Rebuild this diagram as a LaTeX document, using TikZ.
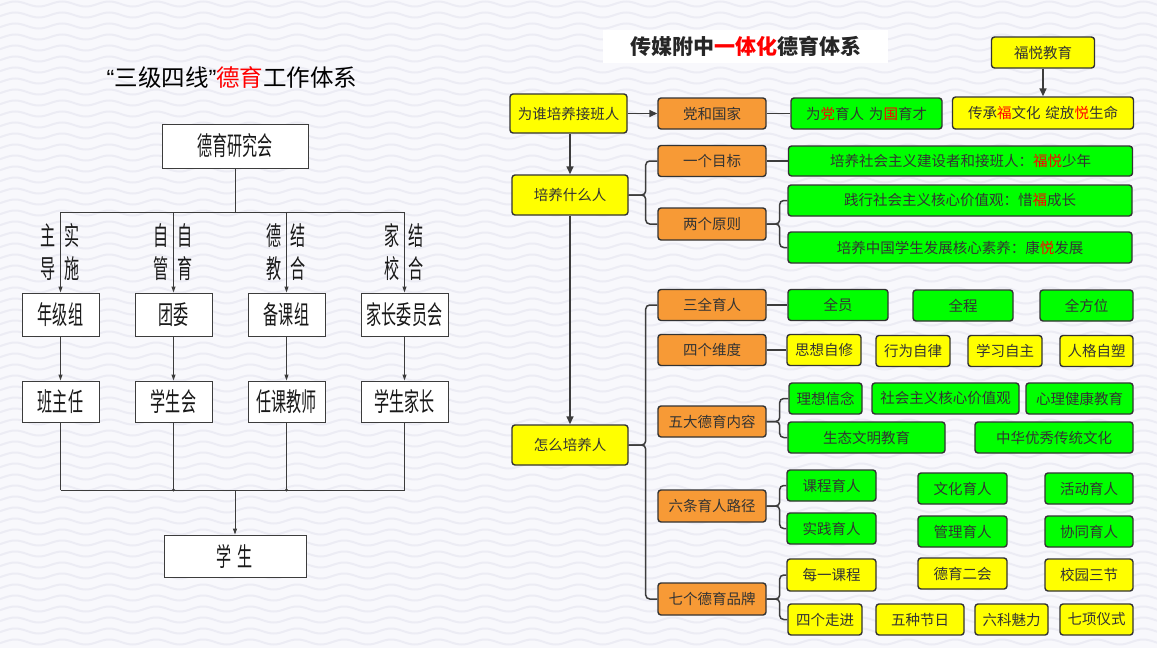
\documentclass[tikz,border=0pt]{standalone}
\usepackage{fontspec}
\usetikzlibrary{arrows.meta}
\newfontfamily\cjk{Noto Sans CJK SC}
\newfontfamily\narrowcjk[FakeStretch=0.58]{Noto Sans CJK SC}
\newfontfamily\quotefont{Liberation Sans}
\definecolor{bg}{HTML}{F8F8FC}
\definecolor{wavec}{HTML}{ECECF4}
\definecolor{ye}{HTML}{FFFF00}
\definecolor{og}{HTML}{F79A36}
\definecolor{gr}{HTML}{00FF00}
\definecolor{bd}{HTML}{333333}
\definecolor{ln}{HTML}{3C3C3C}
\newcommand{\hl}[1]{\textcolor{red}{#1}}

\begin{document}
\begin{tikzpicture}[x=1pt,y=-1pt,
  box/.style={draw=ln,fill=white,line width=1pt,inner sep=0pt,minimum height=42pt,text=black!90,
    font=\narrowcjk\fontsize{26}{26}\selectfont},
  lab/.style={inner sep=0pt,text=black!90,font=\narrowcjk\fontsize{26}{26}\selectfont},
  lline/.style={draw=ln,line width=1pt},
  larrow/.style={lline,-{Triangle[length=6pt,width=4pt]}},
  rbox/.style={draw=bd,line width=1.4pt,rounded corners=3pt,inner sep=0pt,minimum height=31pt,text=bd,
    font=\cjk\fontsize{14.5}{14.5}\selectfont},
  yb/.style={rbox,fill=ye},
  ob/.style={rbox,fill=og,minimum width=108pt},
  gb/.style={rbox,fill=gr},
  rline/.style={draw=ln,line width=1.5pt},
  rarrow/.style={rline,-{Triangle[length=8pt,width=7pt]}},
  brace/.style={rline,rounded corners=4pt}]
\useasboundingbox (0,0) rectangle (1157,648);
\fill[bg] (0,0) rectangle (1157,648);
\begin{scope}
\clip (0,0) rectangle (1157,648);
\foreach \y in {4,15,...,648}
  \draw[wavec,line width=2pt] (-20,\y) \foreach \i in {1,...,26}
    { sin ++(11.75,2.5) cos ++(11.75,-2.5) sin ++(11.75,-2.5) cos ++(11.75,2.5) };
\end{scope}

% left part
\node[inner sep=0pt,font=\cjk\fontsize{23.5}{23.5}\selectfont] (lt) at (232,78)
  {{\quotefont“}三级四线{\quotefont”}\hl{德育}工作体系};
\node[box,minimum width=146pt,minimum height=44pt] (yjh) at (235,146) {德育研究会};
\node[box,minimum width=77pt,minimum height=43pt] (njz) at (60.5,314.5) {年级组};
\node[box,minimum width=77pt,minimum height=43pt] (tw) at (173.5,314.5) {团委};
\node[box,minimum width=77pt,minimum height=43pt] (bkz) at (286.5,314.5) {备课组};
\node[box,minimum width=87pt,minimum height=43pt] (jwh) at (404.5,314.5) {家长委员会};
\node[box,minimum width=77pt,minimum height=41pt] (bzr) at (60.5,401.5) {班主任};
\node[box,minimum width=77pt,minimum height=41pt] (xsh) at (173.5,401.5) {学生会};
\node[box,minimum width=77pt,minimum height=41pt] (rkjs) at (286.5,401.5) {任课教师};
\node[box,minimum width=87pt,minimum height=41pt] (xsjz) at (404.5,401.5) {学生家长};
\node[box,minimum width=142pt] (xs) at (235,556) {学\hspace{6pt}生};

\coordinate (top) at (235,212);
\coordinate (bot) at (235,490);
\draw[lline] (yjh.south) -- (top);
\draw[lline] (njz.north |- top) -- (jwh.north |- top);
\draw[lline] (bzr.south |- bot) -- (xsjz.south |- bot);
\foreach \a/\b/\p/\q/\s/\t in {njz/bzr/主/导/实/施, tw/xsh/自/管/自/育, bkz/rkjs/德/教/结/合, jwh/xsjz/家/校/结/合}{
  \draw[larrow] (\a.north |- top) -- (\a.north);
  \draw[larrow] (\a) -- (\b);
  \draw[lline] (\b.south) -- (\b.south |- bot);
  \path (\a.north) ++(-12,-57) node[lab] (\a-p) {\p} ++(0,33.5) node[lab] (\a-q) {\q};
  \path (\a.north) ++(11.5,-57) node[lab] (\a-s) {\s} ++(0,33.5) node[lab] (\a-t) {\t};
}
\fill[ln] (xsh.south |- bot) circle (1.7pt) (rkjs.south |- bot) circle (1.7pt);
\draw[larrow] (bot) -- (xs.north);

% right part
\node[fill=white,inner sep=0pt,minimum width=285pt,minimum height=33pt,text=black!85,
  font=\cjk\bfseries\fontsize{21}{21}\selectfont] (rt) at (745.5,46.5) {传媒附中\hl{一体化}德育体系};
\node[yb,minimum width=117pt,minimum height=39pt] (wz) at (568.5,113.5) {为谁培养接班人};
\node[ob] (dhgj) at (712,113.5) {党和国家};
\node[gb,minimum width=151pt] (wdyr) at (866.5,113.5) {为\hl{党}育人\hspace{5pt}为\hl{国}育才};
\node[yb,minimum width=103pt] (fyjy) at (1043,52.5) {福悦教育};
\node[yb,minimum width=181pt,minimum height=32pt] (ccfw) at (1043,113) {传承\hl{福}文化\hspace{5pt}绽放\hl{悦}生命};

\node[yb,minimum width=116pt,minimum height=40pt] (pysmr) at (570,195) {培养什么人};
\node[ob] (ygmb) at (712,161) {一个目标};
\node[ob,minimum height=32pt] (lgyz) at (712,224) {两个原则};
\node[gb,minimum width=344pt,minimum height=30pt] (sn) at (960.5,161) {培养社会主义建设者和接班人：\hl{福悦}少年};
\node[gb,minimum width=344pt] (jx) at (960,200.5) {践行社会主义核心价值观：惜\hl{福}成长};
\node[gb,minimum width=344pt] (pz) at (960,247.5) {培养中国学生发展核心素养：康\hl{悦}发展};

\node[yb,minimum width=116pt,minimum height=40pt] (zmpy) at (570,445) {怎么培养人};
\node[ob] (sqyr) at (712,305) {三全育人};
\node[gb,minimum width=100pt] (qy) at (838,305) {全员};
\node[gb,minimum width=100pt] (qc) at (963,305.5) {全程};
\node[gb,minimum width=93pt] (qfw) at (1086.5,305.5) {全方位};

\node[ob] (sgwd) at (712,350) {四个维度};
\node[yb,minimum width=74pt] (sxzx) at (824,350) {思想自修};
\node[yb,minimum width=74pt] (xwzl) at (913,351) {行为自律};
\node[yb,minimum width=74pt] (xxzz) at (1005,351) {学习自主};
\node[yb,minimum width=73pt] (rgzs) at (1096.5,351) {人格自塑};

\node[ob] (wdnr) at (712,421.5) {五大德育内容};
\node[gb,minimum width=73pt] (lxxn) at (825.5,398.5) {理想信念};
\node[gb,minimum width=147pt] (hxjz) at (945.5,398.5) {社会主义核心价值观};
\node[gb,minimum width=107pt] (xljk) at (1079.5,398.5) {心理健康教育};
\node[gb,minimum width=157pt] (stwm) at (866.5,437.5) {生态文明教育};
\node[gb,minimum width=158pt] (zhwh) at (1054,437.5) {中华优秀传统文化};

\node[ob,minimum height=32pt] (ltlj) at (712,506) {六条育人路径};
\node[gb,minimum width=89pt] (kcyr) at (831.5,485.5) {课程育人};
\node[gb,minimum width=89pt] (sjyr) at (831.5,528.5) {实践育人};
\node[gb,minimum width=89pt] (whyr) at (962.5,488.5) {文化育人};
\node[gb,minimum width=88pt] (hdyr) at (1089,488.5) {活动育人};
\node[gb,minimum width=89pt] (glyr) at (962.5,531.5) {管理育人};
\node[gb,minimum width=88pt] (xtyr) at (1089,531.5) {协同育人};

\node[ob,minimum height=32pt] (qgpp) at (712,599) {七个德育品牌};
\node[yb,minimum width=89pt,minimum height=32pt] (mykc) at (831.5,575) {每一课程};
\node[yb,minimum width=89pt] (dyeh) at (962.5,573.5) {德育二会};
\node[yb,minimum width=88pt,minimum height=32pt] (xysj) at (1089,575) {校园三节};
\node[yb,minimum width=74pt] (sgzj) at (825,619.5) {四个走进};
\node[yb,minimum width=88pt] (wzjr) at (920,619.5) {五种节日};
\node[yb,minimum width=73pt] (lkml) at (1011.5,619.5) {六科魅力};
\node[yb,minimum width=73pt] (qxys) at (1096.5,619.5) {七项仪式};

\draw[rarrow] (wz) -- (dhgj);
\draw[rline] (dhgj) -- (wdyr);
\draw[rarrow] (fyjy) -- (ccfw);
\draw[rarrow] (wz.south -| pysmr) -- (pysmr.north);
\draw[rarrow] (pysmr) -- (zmpy);
\draw[rline] (ygmb) -- (sn);
\draw[rline] (sqyr) -- (qy);
\draw[rline] (sgwd) -- (sxzx);
\foreach \p/\a/\b/\d in {pysmr/ygmb/lgyz/17, lgyz/jx/pz/13, zmpy/sqyr/qgpp/17,
  wdnr/lxxn/stwm/13, ltlj/kcyr/sjyr/13, qgpp/mykc/sgzj/13}{
  \draw[brace] (\p.east) -- ++(\d,0) |- (\a.west);
  \draw[brace] (\p.east) -- ++(\d,0) |- (\b.west);
}
\end{tikzpicture}
\end{document}
